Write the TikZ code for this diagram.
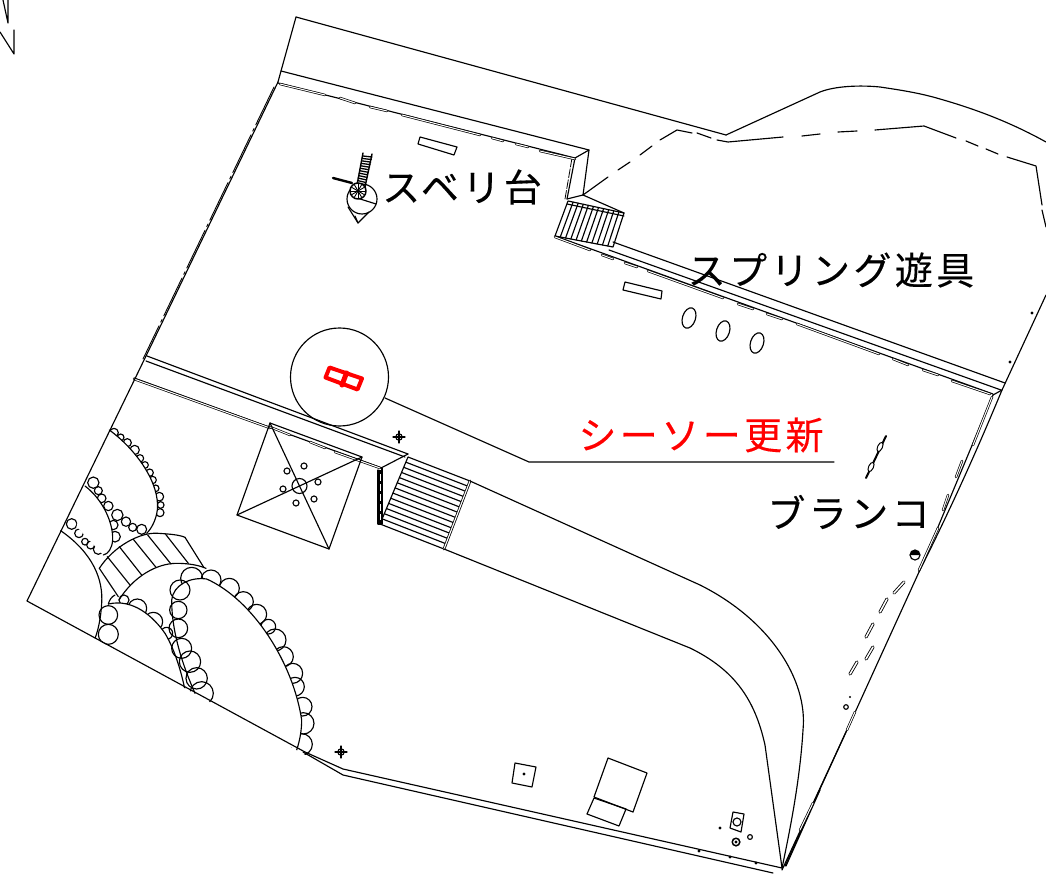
\documentclass[tikz,border=0pt]{standalone}
\usepackage{fontspec}
\usetikzlibrary{calc}
\newfontfamily\cjk[LetterSpace=9,FakeBold=0.25]{Noto Sans CJK JP}
\tikzset{
  base/.style={line width=1.15pt,line cap=round,line join=round},
  wallseg/.style={line width=0.7pt,double,double distance=1pt},
  roundseg/.style={line width=0.85pt,double,double distance=1.5pt},
  label/.style={inner sep=0pt,font=\cjk\fontsize{38}{42}\selectfont},
}
\begin{document}
\begin{tikzpicture}[x=1pt,y=-1pt,base]
\useasboundingbox (0,0) rectangle (1046,874);
% north mark
\draw (3,0) -- (8,23) -- (8,0);
\draw (0,32) -- (14,54) -- (14,30);
% outer boundary
\draw (296,17) -- (726,135);
\draw (296,17) -- (281,71) -- (278,82);
\draw (726,135) -- (820,92) .. controls (835,86) and (860,85) .. (880,87) .. controls (900,90) and (920,93) .. (940,99) .. controls (975,109) and (1010,122) .. (1046,142);
\draw (1046,295) -- (1002,390) .. controls (975,455) and (950,510) .. (919,572) -- (847,730) -- (782,870);
\draw (993,395) -- (938,527) -- (919,572);
\draw (855,712) -- (785,866);
\draw (820,790) -- (786,866);
% dashed line
\draw (583,195) -- (608,177) (618,170) -- (630,162) (640,155) -- (652,146) (660,140) -- (677,130) -- (692,133)
 (697,133) -- (711,138) (717,140) -- (728,142) -- (783,137) (802,136) -- (820,134) (838,132) -- (857,131)
 (875,130) -- (924,126) -- (956,138) (966,141) -- (978,146) (986,149) -- (998,154) (1007,157) -- (1036,166) -- (1042,205) (1042,210) -- (1046,227);
% upper wall
\draw (281,71) -- (589,150) -- (583,195);
\draw (278,83) -- (575,158) -- (589,150);
\draw (575,158) -- (567,199);
\draw[line width=.8pt,dash pattern=on 9pt off 2pt] (572,158) -- (565,199);
\draw (583,195) -- (567,199);
\draw[wallseg] (280,84)--(325,95) (340,98)--(355,103) (370,107)--(387,111) (402,115)--(480,135) (492,138)--(503,141) (516,144)--(528,147) (540,151)--(575,159);
% left long dashes
\draw[line width=.9pt,dash pattern=on 42pt off 4pt on 3pt off 4pt] (274,87) -- (143,359);
% top stairs
\coordinate (sa) at (568,201);
\coordinate (sb) at (624,213);
\coordinate (sc) at (613,247);
\coordinate (sd) at (555,236);
\draw (sa) -- (sb) -- (sc) -- (sd) -- cycle;
\draw (583,195) -- (sb) (567,204) -- (624,216);
\foreach \i in {1,...,10}{\draw ($(sa)!\i/11!(sb)$) -- ($(sd)!\i/11!(sc)$);}
% long right wall
\draw (613,242) -- (1005,383);
\draw (609,250) -- (1001,390);
\draw (1002,390) -- (993,395);
\draw (555,236) -- (993,394);
\draw[wallseg] (555,237)--(590,250) (602,255)--(613,259) (625,263)--(637,267) (648,271)--(723,298) (738,304)--(753,309) (767,314)--(782,319) (797,324)--(879,354) (893,359)--(908,365) (923,370)--(938,375) (952,381)--(990,394);
% right wall segments
\draw[wallseg] (992,397)--(973,445) (962,461)--(956,477) (948,495)--(943,510) (938,528)--(919,570);
\draw[wallseg] (855,712)--(847,730) (813,803)--(800,830);
% lawn strip
\draw (147,356) -- (408,454);
\draw (146,361) -- (405,457);
\draw (134,378) -- (382,468);
\draw[wallseg] (134,379) -- (270,428);
\draw[wallseg] (270,427) -- (290,435) (310,442)--(325,448) (335,452)--(380,468);
\draw (408,454) -- (381,468);
\draw (378,470) -- (378,524) -- (382,524) -- (382,468);
\draw[line width=1.5pt,line cap=butt] (380,470) -- (380,524);
\draw[white,line width=1pt,line cap=butt,dash pattern=on 7pt off 3pt] (380,474) -- (380,520);
% middle stairs
\coordinate (ma) at (408,457);
\coordinate (mb) at (470,481);
\coordinate (mc) at (444,549);
\coordinate (md) at (380,524);
\draw (ma) -- (mb) (mc) -- (md) -- (ma);
\foreach \i in {1,...,12}{\draw ($(ma)!\i/13!(md)$) -- ($(mb)!\i/13!(mc)$);}
\draw[line width=.8pt,double,double distance=1.1pt] (mb) -- (mc);
% path
\draw (mb) -- (700,585) .. controls (770,620) and (808,680) .. (803,730) .. controls (800,780) and (790,830) .. (782,868);
\draw (mc) -- (690,648) .. controls (735,670) and (755,700) .. (765,745) -- (782,868);
% red marker circle and leader
\draw (339.5,377) circle (49);
\draw (385,398) -- (529,462) -- (834,462);
\draw[red,line width=4pt,line join=round,fill=white] (329.5,367.5) -- (362,378.5) -- (357.5,389.5) -- (325.5,377.5) -- cycle;
\draw[red,line width=5pt,line cap=round] (346.5,373) -- (342,385);
% pavilion
\draw (270,423) -- (362,457) -- (329,549) -- (237,515) -- cycle;
\draw (270,423) -- (329,549) (362,457) -- (237,515);
\draw (299.5,486) circle (7.5);
\foreach \x/\y in {287/471,304/466,318/482,314/499,296/503,283/489}{\draw (\x,\y) circle (3);}
% slide
\draw[line width=1.4pt] (363,153) -- (357,185) (372,154) -- (365,187);
\foreach \i in {0,...,11}{\draw[line width=1.3pt] ($(363,156)!\i/11!(357,183)$) -- ($(372,157)!\i/11!(365,185)$);}
\draw[line width=2.4pt] (333,178) -- (352,183);
\draw (362,199) circle (15);
\draw (348,207) -- (358,223) -- (369,212);
\draw (355,216) -- (358,223);
\draw (357,198) -- (376,204);
\draw[line width=1.5pt,fill=white] (358,191) circle (8);
\foreach \t in {0,30,...,150}{\draw[line width=.9pt] ($(358,191)+(\t:7)$) -- ($(358,191)+(\t+180:7)$);}
% benches
\draw (420,137) -- (457,147) -- (454,155) -- (418,144) -- cycle;
\draw (625,282) -- (662,291) -- (661,299) -- (623,290) -- cycle;
% spring toys
\draw (689,318) ellipse [x radius=6.5,y radius=10.5,rotate=-18];
\draw (723,331) ellipse [x radius=6.5,y radius=10.5,rotate=-18];
\draw (757,343) ellipse [x radius=6.5,y radius=10.5,rotate=-18];
% swing
\draw[line width=2pt] (886,436) -- (866,478);
\draw[line width=1pt,fill=white] (880,447) ellipse [x radius=2.4,y radius=5,rotate=-25];
\draw[line width=1pt,fill=white] (871,467) ellipse [x radius=2.4,y radius=5,rotate=-25];
% right side details
\draw (915,555) circle (5);
\fill (910,555) arc (180:360:5) -- cycle;
\draw[roundseg] (904,582)--(894,593) (887,599)--(880,612) (873,624)--(866,637) (873,647)--(866,659) (857,662)--(850,674);
\fill (850,697) circle (1.2);
\draw (846,707) circle (2.3);
\fill (1032,313) circle (1.6);
\fill (1010,362) circle (1.6);
% bottom objects
\draw (515,763) -- (536,767) -- (532,787) -- (512,783) -- cycle;
\fill (524,774) circle (1.6);
\draw (608,758) -- (647,773) -- (633,812) -- (594,797) -- cycle;
\draw (594,798) -- (626,809) -- (619,826) -- (587,814) -- cycle;
\draw (733,812) -- (744,814) -- (741,832) -- (730,828) -- cycle;
\draw (737,822) circle (4);
\fill (720,828) circle (1.7);
\draw (750,837) circle (2.4);
\draw[line width=1.5pt] (736,842) circle (3.8);
\fill (736,842) circle (1.6);
\fill (699,851) circle (1.6);
\fill (730,857) circle (1.6);
\fill (756,863) circle (1.6);
% small marks
\draw (399,437) circle (3.2);
\fill (399,437) circle (1.3);
\draw (399,431) -- (399,443) (393,437) -- (405,437);
\draw (341,752) circle (3.2);
\fill (341,752) circle (1.3);
\draw (341,746) -- (341,758) (335,752) -- (347,752);
% trees, drawn in 3x crop coordinates
\begin{scope}[shift={(0,400)},x=0.33333pt,y=-0.33333pt]
\clip (330,80) -- (80,602) -- (920,1067) -- (1050,1067) -- (1050,0) -- cycle;
% band
\draw (298,505) .. controls (340,440) and (420,395) .. (475,400) .. controls (510,402) and (540,405) .. (555,412);
\draw (357,600) .. controls (400,530) and (470,490) .. (530,490) .. controls (570,490) and (600,497) .. (618,505);
\foreach \a/\b/\c/\d in {298/505/355/590,322/470/390/555,358/440/425/525,400/418/468/502,443/405/513/492,497/403/565/490,555/412/612/503}{\draw (\a,\b) -- (\c,\d);}
% big arc
\draw (182,392) .. controls (280,460) and (310,540) .. (305,610) .. controls (303,650) and (295,690) .. (285,715);
% tree A
\foreach \x/\y/\R in {342/98/13,362/112/10,382/128/12,404/150/14,420/175/11,435/195/10,449/218/11,458/240/11,467/265/10,478/290/13,482/315/10,480/338/12}{\draw (\x,\y) circle (\R);}
\draw[fill=white,draw=none] (328,90) .. controls (410,150) and (480,250) .. (472,330) .. controls (468,360) and (455,385) .. (440,400) -- (350,340) -- (270,235) -- cycle;
\draw (328,90) .. controls (410,150) and (480,250) .. (472,330) .. controls (468,360) and (455,385) .. (440,400);
\foreach \x/\y/\R in {425/388/15,398/382/12,378/365/14,352/345/17,325/318/14,305/295/13,295/272/12,280/248/17}{\draw (\x,\y) circle (\R);}
% tree B
\foreach \x/\y/\R in {345/410/16,340/375/14,215/372/16,237/400/13,255/425/10,272/435/12,295/448/15}{\draw (\x,\y) circle (\R);}
\draw[fill=white,draw=none] (255,258) .. controls (310,300) and (340,370) .. (338,420) .. controls (336,445) and (325,462) .. (310,465) -- (230,380) -- cycle;
\draw (255,258) .. controls (310,300) and (340,370) .. (338,420) .. controls (336,445) and (325,462) .. (310,465);
% tree E
\foreach \x/\y/\R in {372/600/15,412/625/28,460/665/28,500/700/18}{\draw (\x,\y) circle (\R);}
\draw[fill=white,draw=none] (330,610) .. controls (400,600) and (460,650) .. (495,700) .. controls (525,750) and (545,820) .. (555,870) -- (320,735) -- cycle;
\draw (345,585) .. controls (335,590) and (328,600) .. (325,612);
\draw (325,612) .. controls (400,595) and (460,650) .. (495,700) .. controls (525,750) and (545,820) .. (555,870);
\foreach \x/\y/\R in {325/645/28,325/703/30}{\draw (\x,\y) circle (\R);}
% tree F
\foreach \x/\y/\R in {575/535/33,633/540/30,688/565/30,730/605/30,770/643/30,805/680/22,825/720/33,850/770/30,878/820/30,885/860/28,908/920/28,910/970/32,905/1033/32}{\draw (\x,\y) circle (\R);}
\draw[fill=white,draw=none] (515,600) .. controls (520,555) and (570,530) .. (620,537) .. controls (760,600) and (880,790) .. (905,960) .. controls (905,990) and (900,1020) .. (890,1050) -- (585,880) .. controls (550,800) and (515,700) .. (515,600);
\draw (585,880) .. controls (550,800) and (515,700) .. (515,600) .. controls (520,555) and (570,530) .. (620,537) .. controls (760,600) and (880,790) .. (905,960) .. controls (905,990) and (900,1020) .. (890,1050);
\foreach \x/\y/\R in {540/570/30,535/630/26,535/685/28,545/745/30,570/785/32,590/835/32,605/880/35}{\draw (\x,\y) circle (\R);}
\end{scope}
% boundary on top of the trees
\draw (278,82) -- (146,356) -- (27,601) -- (305,752) -- (343,769) -- (782,868);
\draw (303,752) -- (343,775) -- (773,873);
% labels
\node[label] (slide) at (462,187) {スベリ台};
\node[label] (spring) at (831,270) {スプリング遊具};
\node[label,text=red] (seesaw) at (701,435) {シーソー更新};
\node[label] (swing) at (848.5,512) {ブランコ};
\end{tikzpicture}
\end{document}
